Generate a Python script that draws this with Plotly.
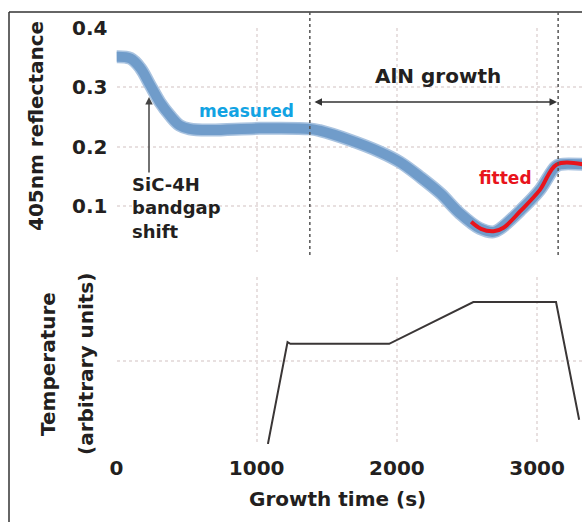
import plotly.graph_objects as go

# ---- data ----
meas_t = [0, 100, 170, 240, 310, 380, 450, 520, 670, 1020, 1380, 1450, 1665, 1880,
          2020, 2165, 2310, 2450, 2590, 2690, 2740, 2880, 3020, 3130, 3165, 3330]
meas_r = [0.352, 0.349, 0.333, 0.304, 0.275, 0.253, 0.236, 0.230, 0.228, 0.231, 0.230,
          0.227, 0.211, 0.191, 0.174, 0.149, 0.121, 0.087, 0.062, 0.056, 0.062, 0.092,
          0.127, 0.166, 0.170, 0.170]
fit_t = [2530, 2600, 2690, 2760, 2880, 3020, 3140, 3330]
fit_r = [0.073, 0.061, 0.057, 0.063, 0.091, 0.127, 0.170, 0.170]
temp_t = [1080, 1220, 1240, 1945, 2545, 3135, 3300]
temp_v = [0.0, 1.22, 1.20, 1.20, 1.70, 1.70, 0.29]
x_ticks = [0, 1000, 2000, 3000]
x_ticktext = ["0", "1000", "2000", "3000"]
r_ticks = [0.1, 0.2, 0.3, 0.4]
r_ticktext = ["0.1", "0.2", "0.3", "0.4"]
temp_grid = [0, 1, 2]
growth_window = [1379, 3150]

W, H = 582, 522
def px(x):
    return x / W
def py(y):
    return 1 - y / H

TXT = "#231f20"
FONT = "DejaVu Sans"
GRID = "#e8e0e0"

fig = go.Figure()
fig.add_trace(go.Scatter(x=meas_t, y=meas_r, mode="lines", line=dict(color="#a9c3e0", width=13, shape="spline"),
                         xaxis="x2", yaxis="y2", showlegend=False, hoverinfo="skip"))
fig.add_trace(go.Scatter(x=meas_t, y=meas_r, mode="lines", line=dict(color="#709cca", width=10, shape="spline"),
                         xaxis="x2", yaxis="y2", showlegend=False))
fig.add_trace(go.Scatter(x=fit_t, y=fit_r, mode="lines", line=dict(color="#e8141c", width=4, shape="spline"),
                         xaxis="x2", yaxis="y2", showlegend=False))
fig.add_trace(go.Scatter(x=temp_t, y=temp_v, mode="lines", line=dict(color="#3a3636", width=2),
                         xaxis="x", yaxis="y", showlegend=False))

xdom = [116.5 / W, 1.0]
xr = [0, (W - 116.5) / 0.1402]
tickfont = dict(family=FONT, size=20, color=TXT, weight="bold")
common = dict(showgrid=True, gridcolor=GRID, griddash="dot", gridwidth=1.5, zeroline=False,
              showline=False, ticks="", automargin=False)

fig.update_layout(
    template="none",
    width=W, height=H, margin=dict(l=0, r=0, t=0, b=0, pad=0), autosize=False,
    paper_bgcolor="white", plot_bgcolor="white",
    xaxis=dict(domain=xdom, range=xr, tickvals=x_ticks, ticktext=x_ticktext, tickfont=tickfont,
               ticklabelstandoff=10, anchor="y", **common),
    yaxis=dict(domain=[py(444), py(277)], range=[0, 2.0], tickvals=temp_grid, showticklabels=False,
               anchor="x", **common),
    xaxis2=dict(domain=xdom, range=xr, tickvals=x_ticks, showticklabels=False, matches="x",
                anchor="y2", **common),
    yaxis2=dict(domain=[py(252), py(28)], range=[0.022, 0.4005], tickvals=r_ticks, ticktext=r_ticktext,
                tickfont=tickfont, ticklabelstandoff=8, anchor="x2", **common),
)

shapes = [
    dict(type="line", xref="paper", yref="paper", x0=px(9), x1=1.0, y0=py(12), y1=py(12),
         line=dict(color="#333333", width=1.5)),
    dict(type="line", xref="paper", yref="paper", x0=px(9), x1=px(9), y0=py(12), y1=0,
         line=dict(color="#333333", width=1.5)),
]
for gx in growth_window:
    shapes.append(dict(type="line", xref="x", yref="paper", x0=gx, x1=gx, y0=py(255), y1=py(12),
                       line=dict(color="#555555", width=1.5, dash="dot")))
fig.update_layout(shapes=shapes)

ann = []
def text(x, y, s, size=20, color=TXT, angle=0, xanchor="center"):
    ann.append(dict(x=px(x), y=py(y), xref="paper", yref="paper", text=s, showarrow=False,
                    textangle=angle, xanchor=xanchor, yanchor="middle",
                    font=dict(family=FONT, size=size, color=color, weight="bold")))

text(36, 126, "405nm reflectance", angle=-90)
text(48, 364, "Temperature", angle=-90)
text(86, 364, "(arbitrary units)", angle=-90)
text(337, 499, "Growth time (s)")
text(246, 111, "measured", size=17, color="#12a3e3")
text(505, 178, "fitted", size=17, color="#e8141c")
text(438, 76, "AlN growth")
ann.append(dict(x=px(130), y=py(208), xref="paper", yref="paper", text="SiC-4H<br>bandgap<br>shift",
                showarrow=False, xanchor="left", yanchor="middle", align="left",
                font=dict(family=FONT, size=18, color=TXT, weight="bold")))
# arrows
ann.append(dict(x=px(149), y=py(97), xref="paper", yref="paper", text="", showarrow=True,
                ax=0, ay=77, arrowhead=2, arrowsize=1, arrowwidth=1.5, arrowcolor="#444444"))
ann.append(dict(x=px(557), y=py(102), xref="paper", yref="paper", text="", showarrow=True,
                ax=-244, ay=0, arrowhead=2, startarrowhead=2, arrowside="end+start",
                arrowsize=1, arrowwidth=1.5, arrowcolor="#333333"))
fig.update_layout(annotations=ann)

fig.write_html("out.html")
